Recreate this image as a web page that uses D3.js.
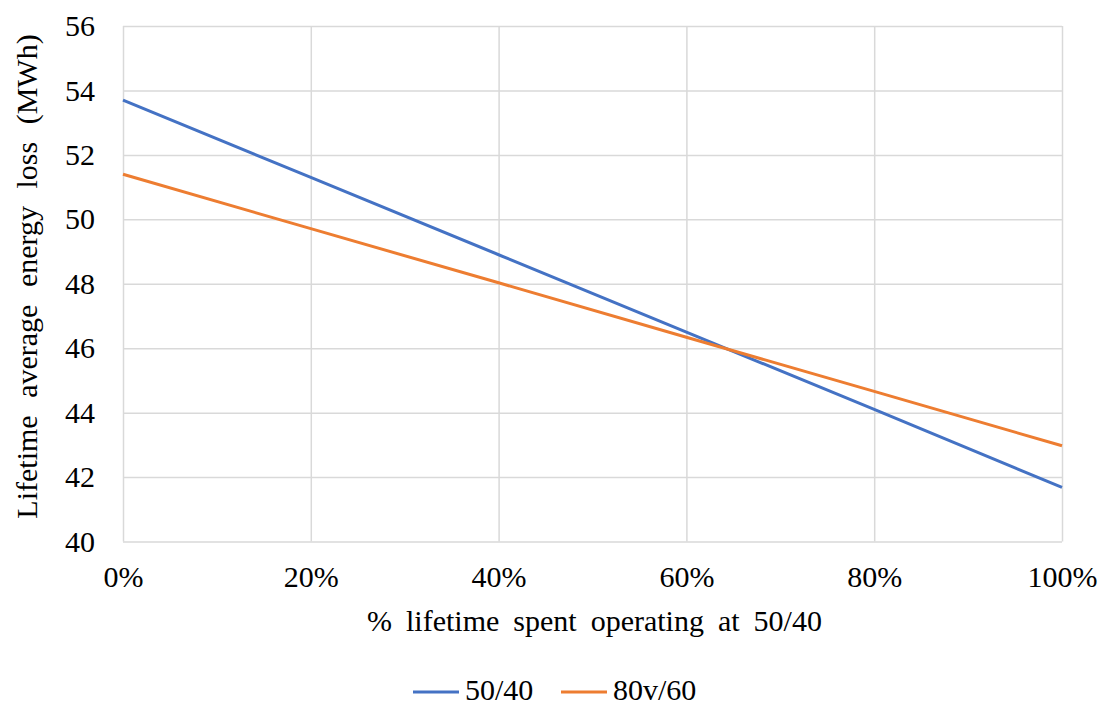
<!DOCTYPE html>
<html>
<head>
<meta charset="utf-8">
<script src="https://cdn.jsdelivr.net/npm/d3@7"></script>
<style>
  html, body { margin: 0; padding: 0; background: #fff; }
  svg { display: block; }
  text { font-family: "Liberation Serif", "Times New Roman", serif; fill: #000; }
</style>
</head>
<body>
<svg id="chart" width="1106" height="707"></svg>
<script>
// Share of lifetime spent at 50/40 (%)
const shares = [0, 20, 40, 60, 80, 100];
// Lifetime average energy loss (MWh)
const loss5040 = [53.7, 51.3, 48.9, 46.5, 44.1, 41.68];
const loss80v60 = [51.4, 49.71, 48.03, 46.34, 44.66, 42.97];
const seriesNames = ["50/40", "80v/60"];
const seriesColors = ["#4472C4", "#ED7D31"];
const yTicks = [40, 42, 44, 46, 48, 50, 52, 54, 56];
const xTicks = [0, 20, 40, 60, 80, 100];

const svg = d3.select("#chart");
const plot = { left: 123, right: 1062, top: 26, bottom: 541.5 };

const x = d3.scaleLinear().domain([0, 100]).range([plot.left, plot.right]);
const y = d3.scaleLinear().domain([40, 56]).range([plot.bottom, plot.top]);

const fontSize = 30;
const gridColor = "#d9d9d9";

// Horizontal gridlines with value labels
const yAxis = d3.axisLeft(y).tickValues(yTicks)
  .tickSize(-(plot.right - plot.left)).tickPadding(28).tickFormat(d3.format("d"));
const gy = svg.append("g").attr("transform", `translate(${plot.left},0)`).call(yAxis);
gy.select(".domain").remove();
gy.selectAll(".tick line").attr("stroke", gridColor).attr("stroke-width", 1.5);
gy.selectAll(".tick text").attr("font-size", fontSize)
  .attr("font-family", "Liberation Serif").attr("fill", "#000");

// Vertical gridlines with percentage labels
const xAxis = d3.axisBottom(x).tickValues(xTicks)
  .tickSize(-(plot.bottom - plot.top)).tickPadding(24).tickFormat(d => d + "%");
const gx = svg.append("g").attr("transform", `translate(0,${plot.bottom})`).call(xAxis);
gx.select(".domain").remove();
gx.selectAll(".tick line").attr("stroke", gridColor).attr("stroke-width", 1.5);
gx.selectAll(".tick text").attr("font-size", fontSize)
  .attr("font-family", "Liberation Serif").attr("fill", "#000");

// Series lines
const line = d3.line().x(d => x(d[0])).y(d => y(d[1]));
const series = [loss5040, loss80v60];
series.forEach((vals, i) => {
  svg.append("path")
    .datum(shares.map((s, j) => [s, vals[j]]))
    .attr("fill", "none")
    .attr("stroke", seriesColors[i])
    .attr("stroke-width", 3)
    .attr("d", line);
});

// Axis titles
svg.append("text")
  .attr("x", (plot.left + plot.right) / 2 + 2)
  .attr("y", 631)
  .attr("text-anchor", "middle")
  .attr("font-size", fontSize)
  .attr("word-spacing", 6.5)
  .text("% lifetime spent operating at 50/40");

svg.append("text")
  .attr("transform", "translate(37,276.5) rotate(-90)")
  .attr("text-anchor", "middle")
  .attr("font-size", fontSize)
  .attr("word-spacing", 10)
  .text("Lifetime average energy loss (MWh)");

// Legend
const legendX = [413, 561];
seriesNames.forEach((name, i) => {
  const g = svg.append("g").attr("transform", `translate(${legendX[i]},692)`);
  g.append("line").attr("x1", 0).attr("x2", 46).attr("y1", 0).attr("y2", 0)
    .attr("stroke", seriesColors[i]).attr("stroke-width", 3);
  g.append("text").attr("x", 52).attr("y", 8).attr("font-size", fontSize).text(name);
});
</script>
</body>
</html>
